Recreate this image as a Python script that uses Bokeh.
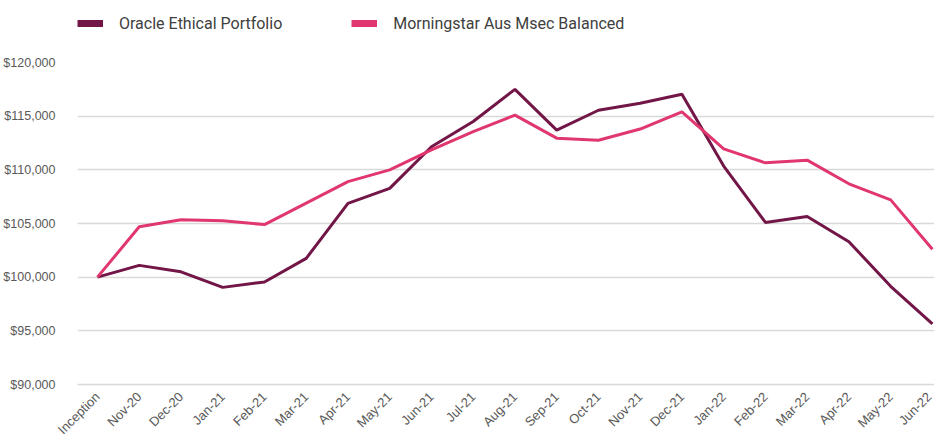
from bokeh.plotting import figure
from bokeh.layouts import column
from bokeh.models import Legend, LegendItem, FixedTicker, NumeralTickFormatter, Range1d
from bokeh.embed import file_html
from bokeh.resources import INLINE
import math

months = ["Inception", "Nov-20", "Dec-20", "Jan-21", "Feb-21", "Mar-21", "Apr-21", "May-21",
          "Jun-21", "Jul-21", "Aug-21", "Sep-21", "Oct-21", "Nov-21", "Dec-21", "Jan-22",
          "Feb-22", "Mar-22", "Apr-22", "May-22", "Jun-22"]
oracle = [100000, 101100, 100500, 99050, 99550, 101750, 106880, 108270, 112150, 114500,
          117500, 113700, 115550, 116200, 117050, 110350, 105100, 105650, 103300, 99150, 95650]
morningstar = [100000, 104700, 105350, 105250, 104900, 106900, 108900, 110000, 111850, 113550,
               115100, 112950, 112750, 113800, 115400, 111950, 110650, 110900, 108700, 107200, 102600]
y_ticks = [90000, 95000, 100000, 105000, 110000, 115000, 120000]
series_names = ["Oracle Ethical Portfolio", "Morningstar Aus Msec Balanced"]

DARK = "#721547"
PINK = "#e0376f"
GREY = "#595959"

xs = list(range(len(months)))

# ---- legend strip -------------------------------------------------------
lg = figure(width=926, height=44, output_backend="svg", toolbar_location=None,
            x_range=Range1d(0, 1), y_range=Range1d(0, 1),
            x_axis_location=None, y_axis_location=None,
            min_border_left=0, min_border_right=0, min_border_top=0, min_border_bottom=0)
lg.grid.grid_line_color = None
lg.outline_line_color = None
# swatch renderers: their data lie outside the strip's ranges, only the legend shows them
s1 = lg.line([5, 6], [5, 5], line_color=DARK, line_width=7)
s2 = lg.line([5, 6], [5, 5], line_color=PINK, line_width=7)
legend = Legend(items=[LegendItem(label=series_names[0], renderers=[s1]),
                       LegendItem(label=series_names[1], renderers=[s2])],
                location=(0, 11), orientation="horizontal")
legend.border_line_color = None
legend.background_fill_alpha = 0
legend.padding = 0
legend.margin = 0
legend.spacing = 69
legend.glyph_width = 26
legend.glyph_height = 20
legend.label_height = 20
legend.label_standoff = 16
legend.label_text_font = "Roboto"
legend.label_text_font_size = "16px"
legend.label_text_color = "#404040"
lg.add_layout(legend, "center")

# ---- main chart ---------------------------------------------------------
p = figure(frame_width=857, frame_height=322, output_backend="svg", toolbar_location=None,
           x_range=Range1d(-0.479, 20.05), y_range=Range1d(90000, 120000),
           min_border_left=69, min_border_right=0, min_border_top=18, min_border_bottom=0)
p.outline_line_color = None

p.line(xs, oracle, line_color=DARK, line_width=3)
p.line(xs, morningstar, line_color=PINK, line_width=3)

p.xgrid.grid_line_color = None
p.ygrid.grid_line_color = "#d9d9d9"
p.ygrid.grid_line_width = 1.3
p.yaxis.ticker = FixedTicker(ticks=y_ticks)
p.yaxis.formatter = NumeralTickFormatter(format="$0,0")
p.yaxis.axis_line_color = None
p.yaxis.major_tick_line_color = None
p.yaxis.minor_tick_line_color = None
p.yaxis.major_label_standoff = 16
p.yaxis.major_label_text_font = "Liberation Sans"
p.yaxis.major_label_text_font_size = "12.5px"
p.yaxis.major_label_text_color = GREY

p.xaxis.ticker = FixedTicker(ticks=xs)
p.xaxis.major_label_overrides = {i: m for i, m in enumerate(months)}
p.xaxis.major_label_orientation = math.pi / 4
p.xaxis.axis_line_color = "#d9d9d9"
p.xaxis.axis_line_width = 1.3
p.xaxis.major_tick_line_color = None
p.xaxis.minor_tick_line_color = None
p.xaxis.major_label_standoff = 4
p.xaxis.major_label_text_font = "Liberation Sans"
p.xaxis.major_label_text_font_size = "13px"
p.xaxis.major_label_text_color = GREY

layout = column(lg, p, spacing=0)
open("out.html", "w").write(file_html(layout, INLINE))
